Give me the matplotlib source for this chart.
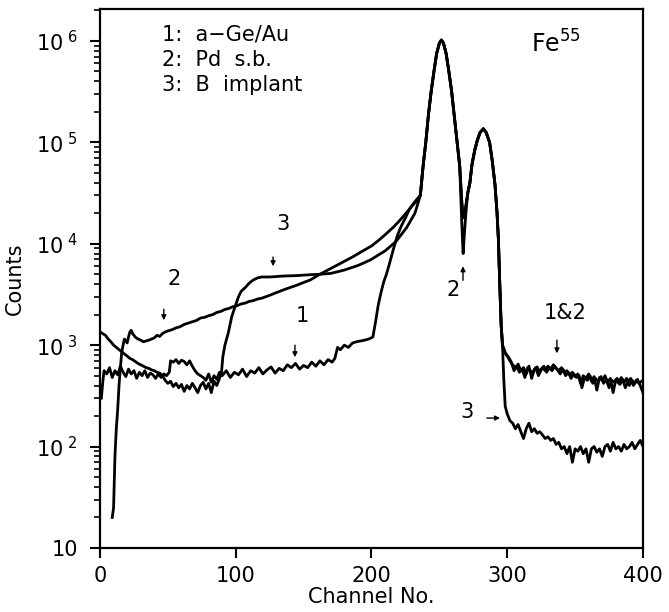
import matplotlib
matplotlib.use('Agg')
import matplotlib.pyplot as plt
import numpy as np

# main peaks, common to all three spectra
peak_ch = [236, 238, 240, 242, 244, 246, 248, 250, 251.5, 253, 255, 257, 259, 261, 263, 265]
peak_cnt = [3.0e4, 5.8e4, 1.0e5, 1.9e5, 3.2e5, 5.0e5, 7.5e5, 9.5e5, 1.02e6, 9.5e5, 7.5e5, 5.0e5,
            3.2e5, 1.8e5, 1.0e5, 5.8e4]
kb_ch = [272.5, 274, 276, 278, 280, 282.4, 284.5, 287, 289, 291, 292.5, 293.5, 294.5, 295.5, 296.5]
kb_cnt = [4.0e4, 6.0e4, 8.3e4, 1.05e5, 1.25e5, 1.36e5, 1.25e5, 1.0e5, 6.5e4, 3.8e4, 2.0e4,
          1.1e4, 4.0e3, 1.6e3, 1.0e3]

# valley between the peaks
dip_ch = [266.5, 267.5, 268.5, 270, 271]
dip_13 = [2.6e4, 1.8e4, 1.9e4, 2.6e4, 3.2e4]
dip_2 = [1.6e4, 8.0e3, 1.3e4, 2.4e4, 3.2e4]

# 1: a-Ge/Au
ch1_lo = [1, 2, 3, 5, 7, 9, 11, 13, 15, 17, 19, 21, 23, 25, 27, 29, 31, 33, 35, 37, 39, 41, 43, 45,
          47, 49, 51, 52, 54, 56, 58, 60, 62, 64, 66, 68, 70, 72, 74, 76, 78, 80, 82, 84, 86, 88,
          90, 93, 96, 99, 102, 105, 108, 111, 114, 117, 120, 123, 126, 129, 132, 135, 138, 141,
          144, 147, 150, 153, 156, 159, 162, 165, 168, 171, 173, 175, 177, 180, 183, 186, 189,
          192, 195, 198, 201, 203, 205, 207, 209, 211, 213, 216, 219, 222, 225, 228, 231, 234]
cnt1_lo = [300, 430, 560, 520, 600, 480, 560, 510, 620, 540, 490, 580, 520, 560, 470, 540, 500,
           560, 480, 530, 510, 470, 520, 480, 520, 500, 540, 700, 680, 720, 660, 710, 690, 640,
           700, 620, 560, 520, 500, 480, 450, 520, 430, 500, 460, 540, 500, 560, 480, 540, 510,
           580, 490, 560, 530, 600, 520, 570, 610, 530, 590, 560, 640, 600, 660, 580, 630, 600,
           680, 620, 700, 640, 720, 680, 740, 950, 900, 1000, 950, 1050, 1080, 1100, 1120, 1150,
           1200, 1700, 2500, 3300, 4200, 5000, 6200, 8700, 12000, 15000, 18000, 22000, 25000, 28000]

# tail of 1 and 2
ch1_hi = [298, 300, 302, 304, 306, 308, 310, 312, 314, 316, 318, 320, 322, 324, 326, 328, 330,
          332, 334, 336, 338, 340, 342, 344, 346, 348, 350, 352, 354, 356, 358, 360, 362, 364,
          366, 368, 370, 372, 374, 376, 378, 380, 382, 384, 386, 388, 390, 392, 394, 396, 398, 400]
cnt1_hi = [850, 780, 700, 640, 600, 650, 560, 600, 520, 620, 470, 580, 610, 540, 600, 560, 620,
           580, 640, 590, 560, 600, 540, 560, 510, 540, 490, 520, 420, 500, 470, 520, 440, 490,
           360, 480, 450, 500, 430, 470, 340, 460, 420, 480, 430, 470, 400, 450, 420, 460, 400, 340]

# 2: Pd s.b.
ch2_lo = [9, 10, 11, 12, 13, 14, 15, 16, 17, 18, 19, 20, 21, 22, 23, 24, 25, 26, 28, 30, 32, 34,
          36, 38, 40, 42, 44, 46, 48, 50, 53, 56, 59, 62, 65, 68, 71, 74, 77, 80, 83, 86, 89, 92,
          95, 98, 101, 104, 107, 110, 113, 116, 119, 122, 125, 130, 135, 140, 145, 150, 155, 162,
          170, 178, 186, 193, 200, 206, 211, 216, 220, 224, 228, 231, 234]
cnt2_lo = [20, 25, 80, 150, 230, 400, 600, 850, 1000, 1150, 1100, 1050, 1200, 1350, 1400, 1300,
           1250, 1200, 1150, 1120, 1080, 1100, 1120, 1150, 1180, 1250, 1220, 1300, 1350, 1380,
           1420, 1480, 1520, 1600, 1650, 1700, 1750, 1850, 1880, 1950, 2000, 2100, 2150, 2250,
           2300, 2400, 2450, 2550, 2600, 2700, 2750, 2850, 2900, 3000, 3100, 3300, 3500, 3700,
           3900, 4150, 4400, 5000, 5700, 6500, 7400, 8400, 9500, 11000, 12600, 14500, 16500,
           19000, 22000, 24500, 27000]
ch2_hi = [299, 301, 303, 305, 307, 309, 311, 313, 315, 317, 319, 321, 323, 325, 327, 329, 331,
          333, 335, 337, 339, 341, 343, 345, 347, 349, 351, 353, 355, 357, 359, 361, 363, 365,
          367, 369, 371, 373, 375, 377, 379, 381, 383, 385, 387, 389, 391, 393, 395, 397, 399]
cnt2_hi = [820, 760, 680, 560, 620, 540, 580, 480, 600, 560, 540, 600, 500, 580, 620, 540, 600,
           560, 620, 570, 520, 580, 500, 540, 470, 520, 480, 500, 380, 480, 450, 500, 420, 470,
           440, 490, 420, 460, 380, 450, 430, 470, 410, 460, 380, 440, 470, 400, 450, 420, 440]

# 3: B implant
ch3_lo = [0, 2, 4, 6, 8, 10, 12, 14, 16, 18, 20, 22, 24, 26, 28, 30, 32, 34, 36, 38, 40, 42, 44,
          46, 48, 50, 52, 54, 56, 58, 60, 62, 64, 66, 68, 70, 72, 74, 76, 78, 80, 82, 84, 86, 88,
          89.5, 90.5, 92, 94.5, 97, 99.5, 102, 104, 107, 110, 113, 116, 119, 125, 135, 145, 155,
          162, 170, 180, 190, 199, 210, 218, 226, 232]
cnt3_lo = [1350, 1300, 1250, 1150, 1080, 1000, 950, 900, 860, 820, 780, 740, 720, 690, 660, 640,
           620, 600, 590, 570, 560, 540, 530, 500, 450, 420, 440, 390, 420, 380, 410, 350, 400,
           370, 420, 380, 340, 400, 430, 370, 420, 340, 440, 400, 470, 540, 770, 1000, 1320,
           1900, 2400, 3000, 3400, 3700, 4100, 4400, 4600, 4700, 4700, 4800, 4850, 4950, 5000,
           5100, 5500, 6100, 6900, 8500, 10500, 14500, 20000]
ch3_hi = [297.5, 298.5, 300, 302, 304, 306, 308, 310, 312, 314, 316, 318, 320, 322, 324, 326, 328,
          330, 332, 334, 336, 338, 340, 342, 344, 346, 348, 350, 352, 354, 356, 358, 360, 362,
          364, 366, 368, 370, 372, 374, 376, 378, 380, 382, 384, 386, 388, 390, 392, 394, 396,
          398, 400]
cnt3_hi = [450, 250, 210, 180, 170, 150, 165, 140, 120, 150, 170, 140, 150, 135, 140, 130, 120,
           125, 115, 120, 105, 110, 95, 100, 85, 100, 70, 95, 90, 100, 85, 95, 70, 95, 100, 88,
           95, 80, 100, 105, 90, 110, 95, 100, 90, 105, 95, 100, 110, 95, 105, 115, 100]

ch1 = ch1_lo + peak_ch + dip_ch + kb_ch + ch1_hi
cnt1 = cnt1_lo + peak_cnt + dip_13 + kb_cnt + cnt1_hi
ch2 = ch2_lo + peak_ch + dip_ch + kb_ch + ch2_hi
cnt2 = cnt2_lo + peak_cnt + dip_2 + kb_cnt + cnt2_hi
ch3 = ch3_lo + peak_ch + dip_ch + kb_ch + ch3_hi
cnt3 = cnt3_lo + peak_cnt + dip_13 + kb_cnt + cnt3_hi

legend_lines = ['1:  a\u2212Ge/Au', '2:  Pd  s.b.', '3:  B  implant']

plt.rcParams['font.family'] = ['DejaVu Sans']
plt.rcParams['mathtext.fontset'] = 'dejavusans'

fig = plt.figure(figsize=(6.69, 6.12), dpi=100)
ax = fig.add_axes([0.1495, 0.1046, 0.8116, 0.8799])

for c, n in [(ch1, cnt1), (ch2, cnt2), (ch3, cnt3)]:
    ax.plot(c, n, color='k', lw=2.0, solid_joinstyle='round')

ax.set_yscale('log')
ax.set_xlim(0, 400)
ax.set_ylim(10, 2.04e6)
ax.set_xticks([0, 100, 200, 300, 400])
ax.xaxis.set_minor_locator(matplotlib.ticker.NullLocator())
ax.set_yticks([10, 1e2, 1e3, 1e4, 1e5, 1e6])
ax.set_yticklabels(['10'] + [r'$\mathregular{10^{\ %d}}$' % k for k in range(2, 7)])
ax.yaxis.set_minor_locator(matplotlib.ticker.LogLocator(base=10, subs=np.arange(2, 10)))
ax.tick_params(which='major', direction='out', length=7, width=1.5, labelsize=15, pad=6)
ax.tick_params(axis='y', which='major', pad=9)
ax.tick_params(which='minor', direction='out', length=4, width=1.2)
for s in ax.spines.values():
    s.set_linewidth(1.6)

ax.set_xlabel('Channel No.', fontsize=15, labelpad=1)
ax.set_ylabel('Counts', fontsize=15, labelpad=8)

# legend text block
for i, s in enumerate(legend_lines):
    ax.text(0.115, 0.953 - i * 0.047, s, transform=ax.transAxes, fontsize=15,
            ha='left', va='center')
ax.text(0.84, 0.935, r'Fe$^{\mathregular{55}}$', transform=ax.transAxes, fontsize=17,
        ha='center', va='center')

# curve labels with arrows
arr = dict(arrowstyle='-|>', color='k', lw=1.0, mutation_scale=7, shrinkA=0, shrinkB=0)
ax.text(134.8, 15800, '3', fontsize=15, ha='center', va='center')
ax.annotate('', xy=(127.5, 6000), xytext=(127.5, 7400), arrowprops=arr)
ax.text(54.5, 4450, '2', fontsize=15, ha='center', va='center')
ax.annotate('', xy=(47, 1760), xytext=(47, 2260), arrowprops=arr)
ax.text(148.8, 1930, '1', fontsize=15, ha='center', va='center')
ax.annotate('', xy=(143.6, 760), xytext=(143.6, 1000), arrowprops=arr)
ax.text(260, 3470, '2', fontsize=15, ha='center', va='center')
ax.annotate('', xy=(267.4, 6000), xytext=(267.4, 4350), arrowprops=arr)
ax.text(343, 2070, '1&2', fontsize=15, ha='center', va='center')
ax.annotate('', xy=(336.6, 830), xytext=(336.6, 1120), arrowprops=arr)
ax.text(270.3, 219, '3', fontsize=15, ha='center', va='center')
ax.annotate('', xy=(294.7, 191), xytext=(285, 191), arrowprops=arr)

fig.savefig('out.png', dpi=100)
